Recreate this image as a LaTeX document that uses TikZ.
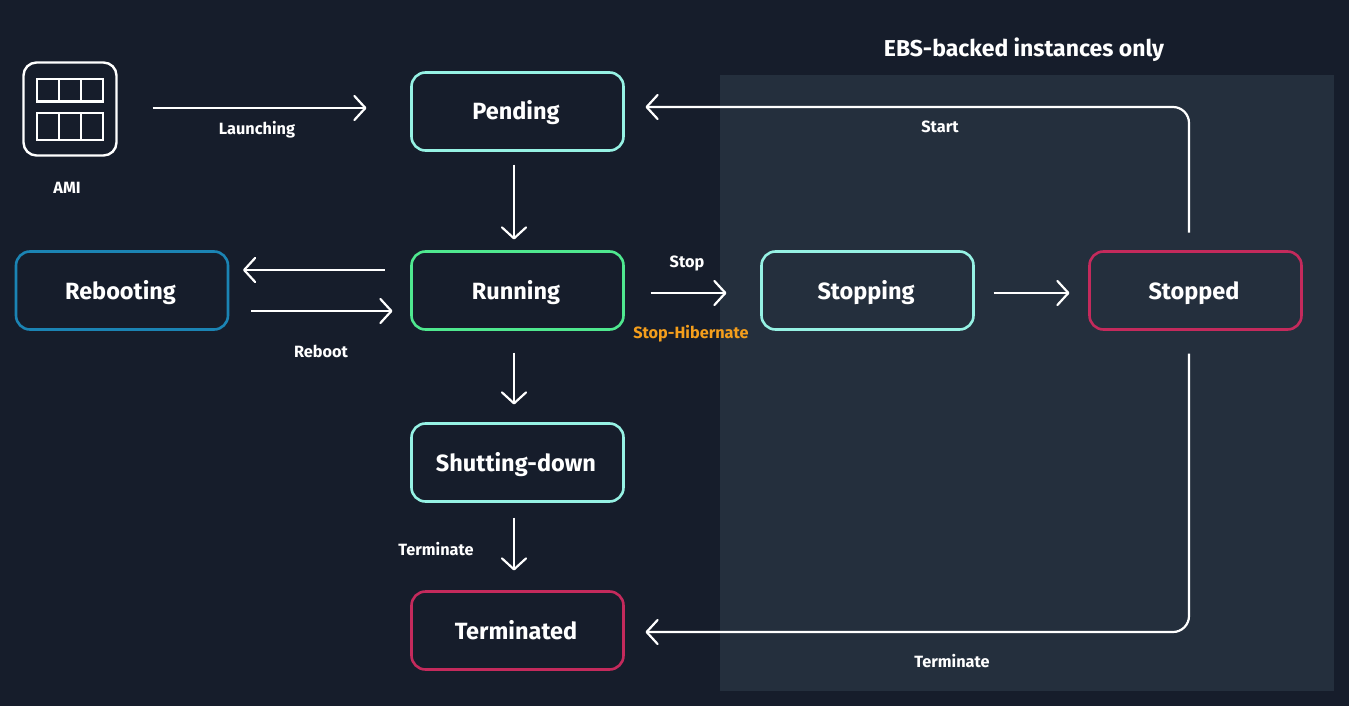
\documentclass[tikz,border=0pt]{standalone}
\usepackage{fontspec}
\setmainfont{Fira Sans}
\usetikzlibrary{arrows.meta}
\definecolor{bgc}{HTML}{161D2B}
\definecolor{panelc}{HTML}{242F3D}
\definecolor{tealc}{HTML}{96F2E4}
\definecolor{greenc}{HTML}{4FE88F}
\definecolor{bluec}{HTML}{1B84B4}
\definecolor{redc}{HTML}{C42A5C}
\definecolor{orangec}{HTML}{F49E1C}
\tikzset{
  statebox/.style={draw=#1,line width=2.6pt,rounded corners=14pt,minimum width=212pt,minimum height=78pt,inner sep=0pt,outer sep=0pt,text=white,text height=20pt,text depth=3pt,font=\fontsize{23.5}{26}\selectfont\bfseries},
  arr/.style={draw=white,line width=2.2pt,-{Straight Barb[length=11pt,width=24pt,line width=2.2pt,round]}},
  lbl/.style={text=white,inner sep=0pt,text height=15pt,text depth=3pt,font=\fontsize{16.3}{18}\selectfont\bfseries},
  icon/.style={draw=white,line width=2.2pt},
}
\begin{document}
\begin{tikzpicture}[x=1pt,y=-1pt]
\useasboundingbox (0,0) rectangle (1349,706);
\fill[bgc] (0,0) rectangle (1349,706);
\node[fill=panelc,minimum width=614pt,minimum height=616pt,inner sep=0pt,outer sep=0pt] (panel) at (1027,383) {};
\node[text=white,inner sep=0pt,text height=21pt,text depth=3pt,font=\fontsize{23}{26}\selectfont\bfseries] (title) at (1024,48) {EBS-backed instances only};
\node[draw=white,line width=2.4pt,rounded corners=13pt,minimum width=93pt,minimum height=93pt,inner sep=0pt,outer sep=0pt] (ami) at (70,109) {};
\draw[icon] (36.7,79) rectangle (103,101.5) (58.7,79) -- (58.7,101.5) (81,79) -- (81,101.5);
\draw[icon] (36.7,113) rectangle (103,140) (58.7,113) -- (58.7,140) (81,113) -- (81,140);
\node[lbl] (amilabel) at (67,187) {AMI};
\node[statebox=tealc] (pending) at (517.5,111.5) {\hspace*{-3pt}Pending};
\node[statebox=greenc] (running) at (517.5,290.5) {\hspace*{-3pt}Running};
\node[statebox=bluec] (rebooting) at (122,290.5) {\hspace*{-3pt}Rebooting};
\node[statebox=tealc] (stopping) at (867.5,290.5) {\hspace*{-3pt}Stopping};
\node[statebox=redc] (stopped) at (1195.5,290.5) {\hspace*{-3pt}Stopped};
\node[statebox=tealc] (shutting) at (517.5,462.5) {\hspace*{-3pt}Shutting-down};
\node[statebox=redc] (terminated) at (517.5,630.5) {\hspace*{-3pt}Terminated};
\draw[arr,shorten <=36pt,shorten >=45pt] ([yshift=1pt]ami.east) -- ([yshift=3.5pt]pending.west);
\draw[arr,shorten <=14pt,shorten >=12pt] ([xshift=-3.5pt]pending.south) -- ([xshift=-3.5pt]running.north);
\draw[arr,shorten <=27pt,shorten >=15pt] ([yshift=20.5pt]running.west) -- ([yshift=20.5pt]rebooting.east);
\draw[arr,shorten <=23pt,shorten >=19pt] ([yshift=-20.5pt]rebooting.east) -- ([yshift=-20.5pt]running.west);
\draw[arr,shorten <=27pt,shorten >=35pt] ([yshift=-2.5pt]running.east) -- ([yshift=-2.5pt]stopping.west);
\draw[arr,shorten <=20pt,shorten >=20pt] ([yshift=-2.5pt]stopping.east) -- ([yshift=-2.5pt]stopped.west);
\draw[arr,shorten <=23pt,shorten >=19pt] ([xshift=-3.5pt]running.south) -- ([xshift=-3.5pt]shutting.north);
\draw[arr,shorten <=16pt,shorten >=21pt] ([xshift=-3.5pt]shutting.south) -- ([xshift=-3.5pt]terminated.north);
\draw[arr,rounded corners=16pt,shorten <=19pt,shorten >=22pt] ([xshift=-6.5pt]stopped.north) -- ([xshift=-6.5pt,yshift=4.5pt]stopped.north |- pending.east) -- ([yshift=4.5pt]pending.east);
\draw[arr,rounded corners=16pt,shorten <=24pt,shorten >=22pt] ([xshift=-6.5pt]stopped.south) -- ([xshift=-6.5pt,yshift=-1.5pt]stopped.south |- terminated.east) -- ([yshift=-1.5pt]terminated.east);
\node[lbl] (launching) at (257,129) {Launching};
\node[lbl] (start) at (940,127) {Start};
\node[lbl] (stop) at (687,261) {Stop};
\node[lbl,text=orangec] (hibernate) at (691,332) {Stop-Hibernate};
\node[lbl] (reboot) at (321,351) {Reboot};
\node[lbl] (termA) at (436,549) {Terminate};
\node[lbl] (termB) at (952,661) {Terminate};
\end{tikzpicture}
\end{document}
